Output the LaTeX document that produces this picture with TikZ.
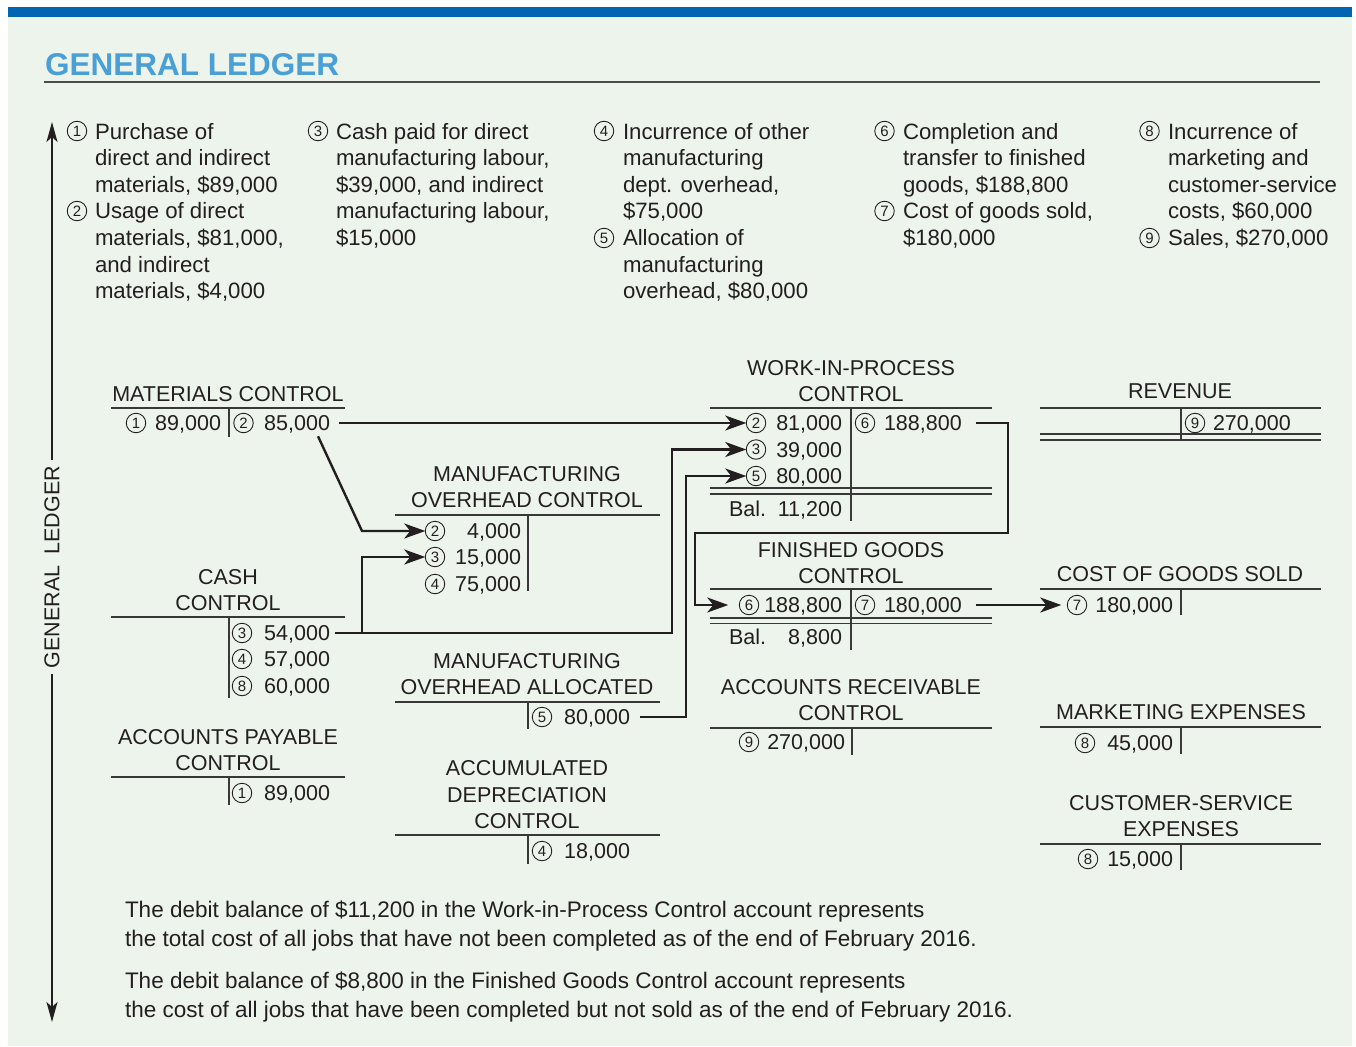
\documentclass[tikz,border=0pt]{standalone}
\usepackage{fontspec}
\setmainfont{Liberation Sans}
\usetikzlibrary{arrows.meta,calc}
\definecolor{panel}{RGB}{237,244,236}
\definecolor{barblue}{RGB}{0,102,178}
\definecolor{titleblue}{RGB}{74,160,214}
\definecolor{ink}{RGB}{35,31,32}
\newcommand\bfs{\fontsize{21.5}{26.6}\selectfont}
\newcommand\dfs{\fontsize{22.2}{26.6}\selectfont}
\newcommand\nfs{\fontsize{22.5}{29}\selectfont}
\begin{document}
\begin{tikzpicture}[x=1pt,y=-1pt,
  txt/.style={inner sep=0pt, outer sep=0pt, text=ink, font=\bfs},
  desc/.style={txt, font=\dfs, align=left, anchor=base west},
  num/.style={txt, anchor=base east},
  numw/.style={txt, anchor=base west},
  cn/.style={circle, draw=ink, line width=0.9pt, minimum size=19.5pt, inner sep=0pt, outer sep=0pt, text=ink, font=\fontsize{15}{15}\selectfont},
  ttl/.style={txt, align=center, anchor=south},
  tline/.style={draw=black!78, line width=1.4pt},
  conn/.style={draw=ink, line width=2.4pt, line join=miter, -{Stealth[length=21pt,width=15pt,inset=6pt]}},
  axarr/.style={draw=ink, line width=2pt, -{Stealth[length=20pt,width=11pt,inset=5pt]}},
]
\useasboundingbox (0,0) rectangle (1356,1046);
\fill[white] (0,0) rectangle (1356,1046);
\fill[panel] (8,7) rectangle (1352,1046);
\fill[barblue] (8,7) rectangle (1352,17);

% title
\node[anchor=base west, inner sep=0pt, text=titleblue, font=\fontsize{31.5}{32}\selectfont\bfseries] (title) at (45,76) {GENERAL LEDGER};
\draw[line width=2pt, black!70] (44,82) -- (1320,82);

% vertical axis
\node[txt, rotate=90] (vl) at (52,567) {GENERAL\hspace{11pt}LEDGER};
\coordinate (axtop) at (52,122);
\coordinate (axbot) at (52,1022);
\draw[axarr, shorten <=6pt] (vl.east) -- (axtop);
\draw[axarr, shorten <=6pt] (vl.west) -- (axbot);

% descriptions (anchor = baseline of last line)
\node[cn] (d1c) at (77,131) {1};
\node[cn] (d2c) at (77,211) {2};
\node[desc] (d1) at (95,298.6) {Purchase of\\direct and indirect\\materials, \$89,000\\Usage of direct\\materials, \$81,000,\\and indirect\\materials, \$4,000};
\node[cn] (d3c) at (318,131) {3};
\node[desc] (d3) at (336,245.4) {Cash paid for direct\\manufacturing labour,\\\$39,000, and indirect\\manufacturing labour,\\\$15,000};
\node[cn] (d4c) at (604,131) {4};
\node[cn] (d5c) at (604,238) {5};
\node[desc] (d4) at (623,298.6) {Incurrence of other\\manufacturing\\dept. overhead,\\\$75,000\\Allocation of\\manufacturing\\overhead, \$80,000};
\node[cn] (d6c) at (884.5,131) {6};
\node[cn] (d7c) at (884.5,211) {7};
\node[desc] (d6) at (903,245.4) {Completion and\\transfer to finished\\goods, \$188,800\\Cost of goods sold,\\\$180,000};
\node[cn] (d8c) at (1149.5,131) {8};
\node[cn] (d9c) at (1149.5,238) {9};
\node[desc] (d8) at (1168,245.4) {Incurrence of\\marketing and\\customer-service\\costs, \$60,000\\Sales, \$270,000};

% ---------- T-account lines ----------
\draw[tline] (111,408) -- (345,408); \draw[tline] (229,408) -- (229,437);
\draw[tline] (395,515) -- (660,515); \draw[tline] (528,515) -- (528,591);
\draw[tline] (111,617) -- (345,617); \draw[tline] (229,617) -- (229,698);
\draw[tline] (111,777) -- (345,777); \draw[tline] (229,777) -- (229,805);
\draw[tline] (395,702) -- (660,702); \draw[tline] (528,702) -- (528,729);
\draw[tline] (395,835) -- (660,835); \draw[tline] (528,835) -- (528,864);
\draw[tline] (710,408) -- (992,408); \draw[tline] (851,408) -- (851,521);
\draw[tline] (710,488) -- (992,488); \draw[tline] (710,494) -- (992,494);
\draw[tline] (710,589) -- (992,589); \draw[tline] (851,589) -- (851,650);
\draw[tline] (710,618) -- (992,618); \draw[tline] (710,623.5) -- (992,623.5);
\draw[tline] (1040,589) -- (1321,589); \draw[tline] (1181,589) -- (1181,615);
\draw[tline] (1040,408) -- (1321,408); \draw[tline] (1181,408) -- (1181,440);
\draw[tline] (1040,434) -- (1321,434); \draw[tline] (1040,440) -- (1321,440);
\draw[tline] (710,728) -- (992,728); \draw[tline] (852,728) -- (852,755);
\draw[tline] (1040,727) -- (1321,727); \draw[tline] (1181,727) -- (1181,754);
\draw[tline] (1040,844) -- (1321,844); \draw[tline] (1181,844) -- (1181,870);

% ---------- titles ----------
\node[ttl] (tmat) at (228,402) {MATERIALS CONTROL};
\node[ttl] (tmoh) at (527,508) {MANUFACTURING\\OVERHEAD CONTROL};
\node[ttl] (tcash) at (228,611) {CASH\\CONTROL};
\node[ttl] (tap) at (228,771) {ACCOUNTS PAYABLE\\CONTROL};
\node[ttl] (tmoha) at (527,695) {MANUFACTURING\\OVERHEAD ALLOCATED};
\node[ttl] (tad) at (527,829) {ACCUMULATED\\DEPRECIATION\\CONTROL};
\node[ttl] (twip) at (851,402) {WORK-IN-PROCESS\\CONTROL};
\node[ttl] (tfg) at (851,584) {FINISHED GOODS\\CONTROL};
\node[ttl] (tar) at (851,721) {ACCOUNTS RECEIVABLE\\CONTROL};
\node[ttl] (trev) at (1180,399) {REVENUE};
\node[ttl] (tcogs) at (1180,582) {COST OF GOODS SOLD};
\node[ttl] (tmkt) at (1181,720) {MARKETING EXPENSES};
\node[ttl] (tcs) at (1181,837) {CUSTOMER-SERVICE\\EXPENSES};

% ---------- entries ----------
\node[cn] (mat1c) at (136,423) {1}; \node[num] (mat1) at (221,430.5) {89,000};
\node[cn] (mat2c) at (243.5,423) {2}; \node[num] (mat2) at (330,430.5) {85,000};
\node[cn] (moh2c) at (435,531) {2}; \node[num] (moh2) at (521,538.5) {4,000};
\node[cn] (moh3c) at (435,557) {3}; \node[num] (moh3) at (521,564.5) {15,000};
\node[cn] (moh4c) at (435,584) {4}; \node[num] (moh4) at (521,591.5) {75,000};
\node[cn] (cash3c) at (242,633) {3}; \node[num] (cash3) at (330,640.5) {54,000};
\node[cn] (cash4c) at (242,659) {4}; \node[num] (cash4) at (330,666.5) {57,000};
\node[cn] (cash8c) at (242,686) {8}; \node[num] (cash8) at (330,693.5) {60,000};
\node[cn] (ap1c) at (242,793) {1}; \node[num] (ap1) at (330,800.5) {89,000};
\node[cn] (moha5c) at (542,717) {5}; \node[num] (moha5) at (630,724.5) {80,000};
\node[cn] (ad4c) at (542,851) {4}; \node[num] (ad4) at (630,858.5) {18,000};
\node[cn] (wip2c) at (756,423) {2}; \node[num] (wip2) at (842,430.5) {81,000};
\node[cn] (wip3c) at (756,449.5) {3}; \node[num] (wip3) at (842,457) {39,000};
\node[cn] (wip5c) at (756,476) {5}; \node[num] (wip5) at (842,483.5) {80,000};
\node[cn] (wip6c) at (865,423) {6}; \node[numw] (wip6) at (884,430.5) {188,800};
\node[numw] (wipbal) at (729,516) {Bal.}; \node[num] (wipbalv) at (842,516) {11,200};
\node[cn] (fg6c) at (749,605) {6}; \node[num] (fg6) at (842,612.5) {188,800};
\node[cn] (fg7c) at (865,605) {7}; \node[numw] (fg7) at (884,612.5) {180,000};
\node[numw] (fgbal) at (729,644) {Bal.}; \node[num] (fgbalv) at (842,644) {8,800};
\node[cn] (cogs7c) at (1077,605) {7}; \node[num] (cogs7) at (1173,612.5) {180,000};
\node[cn] (rev9c) at (1195,423) {9}; \node[numw] (rev9) at (1213,430.5) {270,000};
\node[cn] (ar9c) at (749,742) {9}; \node[num] (ar9) at (845,749.5) {270,000};
\node[cn] (mkt8c) at (1085,743) {8}; \node[num] (mkt8) at (1173,750.5) {45,000};
\node[cn] (cs8c) at (1088,859) {8}; \node[num] (cs8) at (1173,866.5) {15,000};

% ---------- connectors ----------
\draw[conn] ($(mat2.east |- mat2c)+(9,0)$) -- (wip2c.west);
\draw[conn] ($(mat2.south east)+(-12,3)$) -- (362,0 |- moh2c) -- (moh2c.west);
\draw[conn] ($(cash3.east |- cash3c)+(5,0)$) -- (672,0 |- cash3c) -- (672,0 |- wip3c) -- (wip3c.west);
\draw[conn] (362,0 |- cash3c) -- (362,0 |- moh3c) -- (moh3c.west);
\draw[conn] ($(moha5.east |- moha5c)+(10,0)$) -- (686,0 |- moha5c) -- (686,0 |- wip5c) -- (wip5c.west);
\draw[conn] ($(wip6.east |- wip6c)+(14,0)$) -- (1008,0 |- wip6c) -- (1008,533) -- (695,533) -- (695,0 |- fg6c) -- ($(fg6c.west)+(-11,0)$);
\draw[conn] ($(fg7.east |- fg7c)+(14,0)$) -- ($(cogs7c.west)+(-6,0)$);

% ---------- notes (anchor = baseline of last line) ----------
\node[txt, font=\nfs, align=left, anchor=base west] (n1) at (125,946) {The debit balance of \$11,200 in the Work-in-Process Control account represents\\the total cost of all jobs that have not been completed as of the end of February 2016.};
\node[txt, font=\nfs, align=left, anchor=base west] (n2) at (125,1017) {The debit balance of \$8,800 in the Finished Goods Control account represents\\the cost of all jobs that have been completed but not sold as of the end of February 2016.};
\end{tikzpicture}
\end{document}
